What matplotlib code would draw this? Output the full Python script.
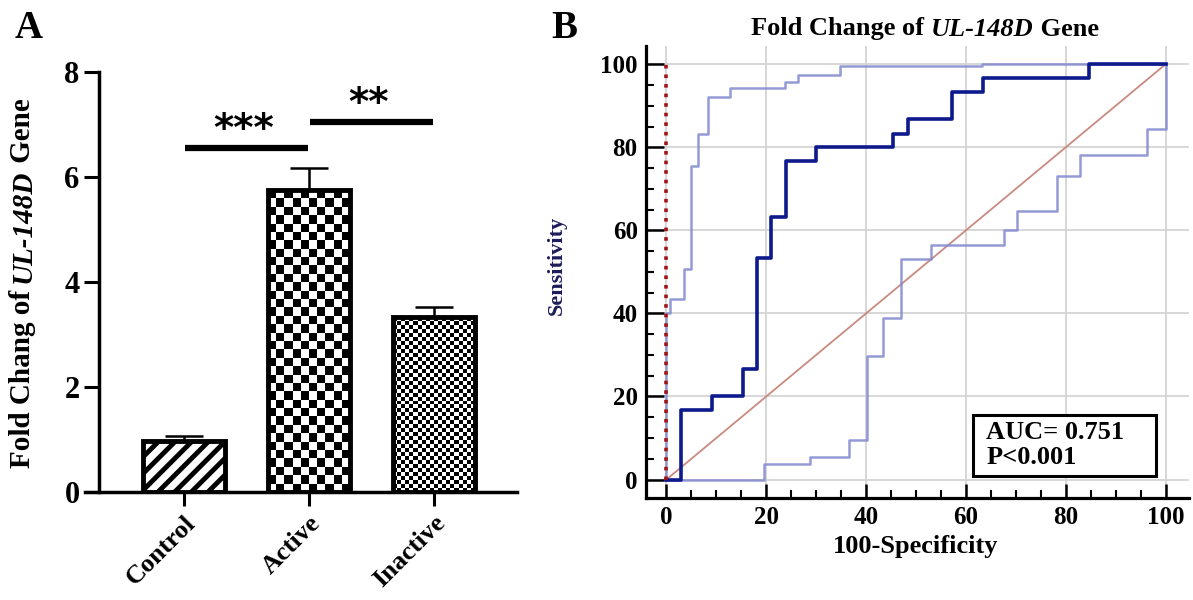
import numpy as np
import matplotlib
matplotlib.use("Agg")
import matplotlib.pyplot as plt
from matplotlib.patches import Rectangle

plt.rcParams['font.family'] = ['Liberation Serif', 'DejaVu Serif']
plt.rcParams['font.weight'] = 'bold'
plt.rcParams['hatch.linewidth'] = 3.5

# panel A data
groups = ['Control', 'Active', 'Inactive']
fold_change = [0.98, 5.75, 3.33]
fold_err = [0.09, 0.42, 0.2]
sig_pairs = [(0, 1), (1, 2)]
sig_y = [6.55, 7.05]
sig_text = ['***', '**']

# panel B data (ROC steps, 100-specificity vs sensitivity)
roc_x = [0, 3.0, 9.2, 15.3, 18.2, 20.9, 24.0, 30.0, 45.3, 48.5, 57.3, 63.5, 84.7, 100]
roc_y = [0, 16.7, 20.0, 26.7, 53.3, 63.3, 76.7, 80.0, 83.3, 86.7, 93.3, 96.7, 100, 100]
ci_hi_x = [0, 0, 0.7, 3.5, 4.9, 6.3, 8.3, 12.7, 23.7, 26.3, 34.7, 63.2, 100]
ci_hi_y = [0, 40, 43.4, 50.6, 75.6, 83.2, 92.2, 94.2, 95.8, 97.4, 99.6, 100, 100]
ci_lo_x = [0, 19.6, 28.7, 36.6, 40.2, 43.4, 46.9, 53.1, 67.7, 70.2, 78.2, 82.9, 96.2, 100]
ci_lo_y = [0, 3.8, 5.4, 9.5, 29.7, 39.0, 53.0, 56.4, 60.2, 64.6, 73.2, 78.2, 84.4, 100]
auc_text = 'AUC= 0.751\nP<0.001'

fig = plt.figure(figsize=(11.93, 6.0), dpi=100)
renderer = fig.canvas.get_renderer()


def text_w(s, size, style='normal'):
    t = fig.text(0, 0, s + 'x', fontsize=size, style=style)
    t2 = fig.text(0, 0, 'x', fontsize=size, style=style)
    w = t.get_window_extent(renderer).width - t2.get_window_extent(renderer).width
    t.remove()
    t2.remove()
    return w


def mixed_text(xc, yc, parts, size, vertical=False, **kw):
    # parts: list of (string, style); centred at figure pixel (xc, yc) from bottom-left
    widths = [text_w(s, size, st) for s, st in parts]
    pos = -sum(widths) / 2
    for (s, st), w in zip(parts, widths):
        if vertical:
            px, py, rot = xc, yc + pos, 90
        else:
            px, py, rot = xc + pos, yc, 0
        fig.text(px / 1193, py / 600, s, fontsize=size, style=st,
                 rotation=rot, rotation_mode='anchor', ha='left', va='center', **kw)
        pos += w


# ---------------- panel A ----------------
axA = fig.add_axes([85 / 1193, 1 - 492 / 600, 432 / 1193, 420 / 600])
x = np.arange(len(groups))
bars = axA.bar(x, fold_change, width=0.65, facecolor='none', edgecolor='black',
               linewidth=3.5, zorder=3)
bars[0].set_facecolor('white')
bars[0].set_hatch('//')
axA.errorbar(x, fold_change, yerr=[np.zeros(len(x)), fold_err], fmt='none',
             ecolor='black', elinewidth=1.8, capsize=14, capthick=1.8, zorder=2)

axA.set_xlim(-0.792, 2.664)
axA.set_ylim(0, 8)

# checkerboard fills, cell size in pixels
for bar, cell in [(bars[1], 8.5), (bars[2], 4)]:
    bb = bar.get_window_extent()
    nx = max(int(round(bb.width / cell)), 1)
    ny = max(int(round(bb.height / cell)), 1)
    ii, jj = np.indices((ny, nx))
    board = (ii + jj) % 2
    im = axA.imshow(board, cmap='gray', interpolation='nearest', aspect='auto',
                    extent=[bar.get_x(), bar.get_x() + bar.get_width(), 0, bar.get_height()],
                    zorder=2)
    im.set_clip_path(bar)
axA.set_xlim(-0.792, 2.664)
axA.set_ylim(0, 8)

for (a, b), yy, t in zip(sig_pairs, sig_y, sig_text):
    axA.plot([a + 0.01, b - 0.01], [yy, yy], color='black', lw=4.5, solid_capstyle='butt')
    axA.text((a + b) / 2 - 0.02, yy + 0.34, t, ha='center', va='center',
             fontsize=28, family='DejaVu Sans', fontweight='bold')

axA.spines['top'].set_visible(False)
axA.spines['right'].set_visible(False)
axA.spines['left'].set_position(('data', -0.68))
axA.spines['left'].set_linewidth(2.5)
axA.spines['bottom'].set_linewidth(2.5)
axA.set_yticks([0, 2, 4, 6, 8])
axA.tick_params(axis='y', length=11, width=2.2, labelsize=22, pad=3)
axA.tick_params(axis='x', length=10, width=2.2, labelsize=19, pad=4)
axA.set_xticks(x)
axA.set_xticklabels(groups, rotation=45, ha='right', rotation_mode='anchor')

mixed_text(23, 600 - 283, [('Fold Chang of ', 'normal'), ('UL-148D', 'italic'),
                           (' Gene', 'normal')], 21, vertical=True)
fig.text(15 / 1193, 1 - 28 / 600, 'A', ha='left', va='center', fontsize=28)

# ---------------- panel B ----------------
axB = fig.add_axes([646 / 1193, 1 - 498 / 600, 543 / 1193, 452 / 600])
axB.plot([0, 100], [0, 100], color='#c98a80', lw=1.3, zorder=2)
axB.step(ci_hi_x, ci_hi_y, where='post', color='#8088cf', lw=1.8, alpha=0.85, zorder=3)
axB.step(ci_lo_x, ci_lo_y, where='post', color='#8088cf', lw=1.8, alpha=0.85, zorder=3)
axB.step(roc_x, roc_y, where='post', color='#0d1a8c', lw=2.6, zorder=4)
axB.plot([0, 0], [0, 100], color='#a01414', lw=2.6, ls=':', zorder=5)

axB.set_xlim(-4.09, 104.7)
axB.set_ylim(-4.45, 104.4)
axB.set_xticks(np.arange(0, 101, 20))
axB.set_yticks(np.arange(0, 101, 20))
axB.set_xticks(np.arange(0, 101, 5), minor=True)
axB.set_yticks(np.arange(0, 101, 5), minor=True)
axB.grid(True, which='major', color='#d4d4d4', lw=1.3, zorder=0)
axB.set_axisbelow(True)
axB.spines['top'].set_visible(False)
axB.spines['right'].set_visible(False)
axB.spines['left'].set_linewidth(2.3)
axB.spines['bottom'].set_linewidth(2.3)
axB.tick_params(axis='y', which='major', direction='in', length=13, width=1.8, labelsize=18, pad=6)
axB.tick_params(axis='x', which='major', direction='in', length=10, width=1.8, labelsize=18, pad=6)
axB.tick_params(which='minor', direction='in', length=6, width=1.5)

axB.add_patch(Rectangle((61.5, 0.8), 36.5, 14.7, facecolor='white', edgecolor='black',
                        lw=2.2, zorder=6))
axB.text(64.1, 8.4, auc_text, ha='left', va='center', fontsize=19, linespacing=1.1, zorder=7)

mixed_text(925, 600 - 29, [('Fold Change of ', 'normal'), ('UL-148D', 'italic'),
                           (' Gene', 'normal')], 19)
fig.text(916 / 1193, 1 - 546 / 600, '100-Specificity', ha='center', va='center', fontsize=19)
fig.text(557 / 1193, 1 - 265 / 600, 'Sensitivity', rotation=90, ha='center', va='center',
         fontsize=16, color='#1c1c5a')
fig.text(551 / 1193, 1 - 29 / 600, 'B', ha='left', va='center', fontsize=28)

fig.savefig('out.png', dpi=100)
